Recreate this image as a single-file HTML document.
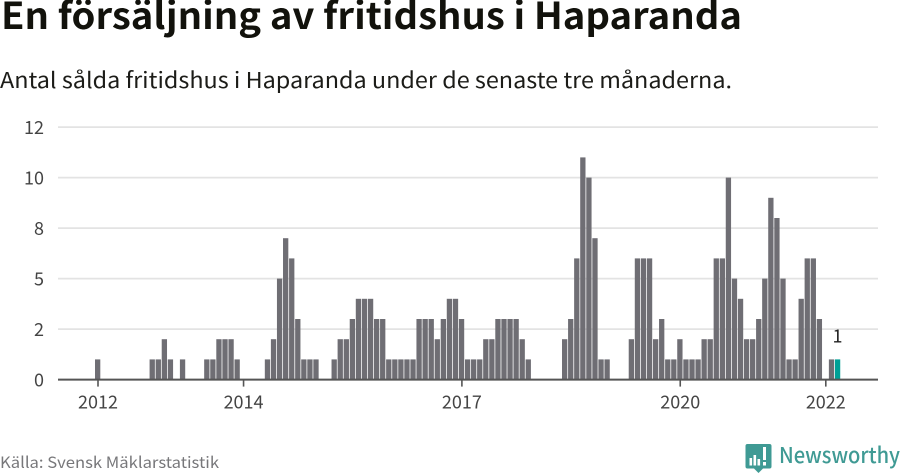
<!DOCTYPE html>
<html lang="sv">
<head>
<meta charset="utf-8">
<title>En försäljning av fritidshus i Haparanda</title>
<style>
html,body{margin:0;padding:0;background:#fff;width:900px;height:474px;overflow:hidden}
svg{display:block}
text{font-family:"Noto Sans CJK SC","Liberation Sans",sans-serif}
</style>
</head>
<body>
<svg id="chart" xmlns="http://www.w3.org/2000/svg" width="900" height="474" viewBox="0 0 900 474">
  <text x="1" y="29" font-size="37" font-weight="700" fill="#12120c" textLength="741" lengthAdjust="spacingAndGlyphs">En försäljning av fritidshus i Haparanda</text>
  <text x="0" y="88" font-size="22" fill="#1c1c18" textLength="732" lengthAdjust="spacingAndGlyphs">Antal sålda fritidshus i Haparanda under de senaste tre månaderna.</text>
  <g id="grid"></g>
  <g id="bars"></g>
  <g id="axis"></g>
  <g id="ylabels"></g>
  <text id="value-label" font-size="18" fill="#222" text-anchor="middle"></text>
  <text x="0" y="468" font-size="15.5" fill="#77777a" textLength="219" lengthAdjust="spacingAndGlyphs">Källa: Svensk Mäklarstatistik</text>
  <g>
    <path d="M747 444h22.500a2 2 0 0 1 2 2v20.500a2 2 0 0 1-2 2h-6.500l-4.500 4.500-4.500-4.500h-6.500a2 2 0 0 1-2-2v-20.500a2 2 0 0 1 2-2z" fill="#3f9a94"/>
    <rect x="749.500" y="458" width="2.600" height="7.500" fill="#fff"/>
    <rect x="753.500" y="455" width="2.600" height="10.500" fill="#fff"/>
    <rect x="757.500" y="459" width="2.600" height="6.500" fill="#fff"/>
    <rect x="763" y="447" width="3" height="13" fill="#fff"/>
    <rect x="763" y="462" width="3" height="3.500" fill="#fff"/>
    <text x="779" y="463" font-size="21.500" font-weight="500" fill="#3f9a94" textLength="121" lengthAdjust="spacingAndGlyphs">Newsworthy</text>
  </g>
</svg>
<script>
const monthValues = [
  1,0,0,0,0,0,0,0,0,1,1,2,1,0,1,0,0,0,1,1,2,2,2,1,
  0,0,0,0,1,2,5,7,6,3,1,1,1,0,0,1,2,2,3,4,4,4,3,3,
  1,1,1,1,1,3,3,3,2,3,4,4,3,1,1,1,2,2,3,3,3,3,2,1,
  0,0,0,0,0,2,3,6,11,10,7,1,1,0,0,0,2,6,6,6,2,3,1,1,
  2,1,1,1,2,2,6,6,10,5,4,2,2,3,5,9,8,5,1,1,4,6,6,3,
  0,1,1
];
const yTickValues = [0, 2.5, 5, 7.5, 10, 12.5];
const yTickLabels = ["0", "2", "5", "8", "10", "12"];
const xTickMonths = [0, 24, 60, 96, 120];
const xTickLabels = ["2012", "2014", "2017", "2020", "2022"];
const NS = "http://www.w3.org/2000/svg";

function xScale(m) { return 98 + m * 6.065; }
function yScale(v) { return 379.6 - v * 20.2; }
function make(tag, attrs) {
  const el = document.createElementNS(NS, tag);
  for (const k in attrs) el.setAttribute(k, attrs[k]);
  return el;
}

const gridG = document.getElementById("grid");
const labelG = document.getElementById("ylabels");
yTickValues.forEach(function (v, i) {
  if (v !== 0) {
    const line = make("line", {x1: 58, x2: 878, y1: yScale(v), y2: yScale(v), stroke: "#e3e3e3", "stroke-width": 1.8});
    
    
    gridG.appendChild(line);
  }
  const t = make("text", {x: 44, y: yScale(v) + 7, "font-size": 18, fill: "#444", "text-anchor": "end"});
  
  
  t.textContent = yTickLabels[i];
  labelG.appendChild(t);
});

const barG = document.getElementById("bars");
const lastIndex = monthValues.length - 1;
monthValues.forEach(function (v, i) {
  if (v <= 0) return;
  const r = make("rect", {
    x: xScale(i) - 3,
    y: yScale(v),
    width: 5.3,
    height: yScale(0) - yScale(v),
    fill: i === lastIndex ? "#00a096" : "#6f6e74"
  });
  
  
  barG.appendChild(r);
});

const axisG = document.getElementById("axis");
const baseLine = make("line", {x1: 58, x2: 878, y1: yScale(0), y2: yScale(0), stroke: "#555", "stroke-width": 2});


axisG.appendChild(baseLine);
xTickMonths.forEach(function (m, i) {
  const tick = make("line", {x1: xScale(m), x2: xScale(m), y1: yScale(0), y2: yScale(0) + 7, stroke: "#555", "stroke-width": 1.6});
  
  
  axisG.appendChild(tick);
  const t = make("text", {x: xScale(m), y: 408.500, "font-size": 18, fill: "#444", "text-anchor": "middle"});
  
  
  t.textContent = xTickLabels[i];
  axisG.appendChild(t);
});

const valueLabel = document.getElementById("value-label");
valueLabel.setAttribute("x", xScale(lastIndex) - 0.4);
valueLabel.setAttribute("y", yScale(monthValues[lastIndex]) - 17);
valueLabel.textContent = String(monthValues[lastIndex]);
</script>
</body>
</html>
